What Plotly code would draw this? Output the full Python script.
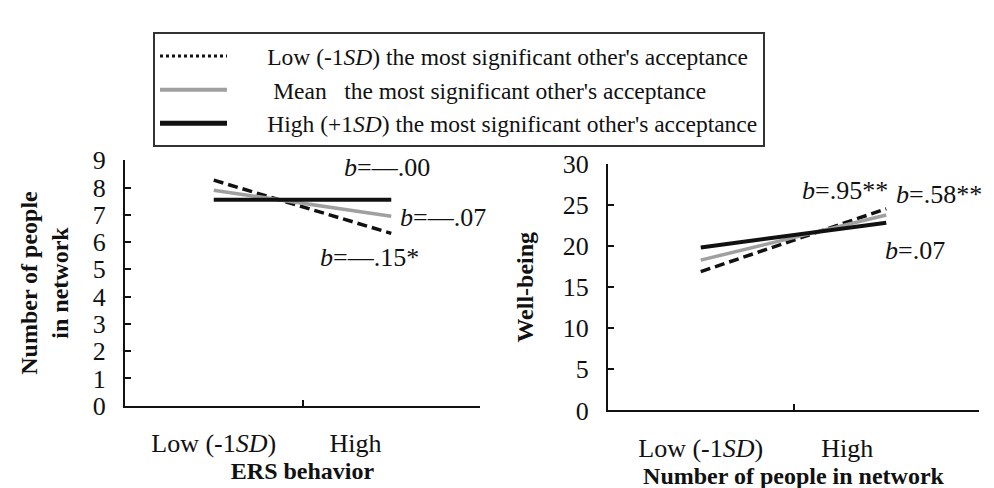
import plotly.graph_objects as go

# ---- data ----
categories = ["Low", "High"]
tick_text_left = ["Low (-1<i>SD</i>)", "High" + "\u00a0" * 11]
tick_text_right = ["Low (-1<i>SD</i>)", "High" + "\u00a0" * 12]

series_names = [
    "Low (-1<i>SD</i>) the most significant other's acceptance",
    "\u00a0Mean\u00a0\u00a0 the most significant other's acceptance",
    "High (+1<i>SD</i>) the most significant other's acceptance",
]

# Left panel: Number of people in network by ERS behavior
left_low = [8.27, 6.32]
left_mean = [7.90, 6.95]
left_high = [7.55, 7.55]
left_slopes = ["<i>b</i>=\u2014.15*", "<i>b</i>=\u2014.07", "<i>b</i>=\u2014.00"]

# Right panel: Well-being by number of people in network
right_low = [16.9, 24.55]
right_mean = [18.3, 23.8]
right_high = [19.85, 22.85]
right_slopes = ["<i>b</i>=.95**", "<i>b</i>=.58**", "<i>b</i>=.07"]

left_yticks = list(range(0, 10))
right_yticks = [0, 5, 10, 15, 20, 25, 30]

# ---- styles ----
FONT = "Liberation Serif, Times New Roman, serif"
BLACK = "#111111"
GRAY = "#a0a0a0"
styles = [
    dict(color=BLACK, width=3.5, dash="10px,5px"),
    dict(color=GRAY, width=3.5, dash="solid"),
    dict(color=BLACK, width=4, dash="solid"),
]
legend_styles = [
    dict(color=BLACK, width=3, dash="dot"),
    dict(color=GRAY, width=4, dash="solid"),
    dict(color=BLACK, width=5, dash="solid"),
]
LEGEND_PAD = "\u00a0" * 6

fig = go.Figure()

for vals, st in zip([left_low, left_mean, left_high], styles):
    fig.add_trace(go.Scatter(x=categories, y=vals, mode="lines", line=st,
                             showlegend=False, xaxis="x", yaxis="y"))
for vals, st in zip([right_low, right_mean, right_high], styles):
    fig.add_trace(go.Scatter(x=categories, y=vals, mode="lines", line=st,
                             showlegend=False, xaxis="x2", yaxis="y2"))
for name, st in zip(series_names, legend_styles):
    fig.add_trace(go.Scatter(x=[None], y=[None], mode="lines", line=st,
                             name=LEGEND_PAD + name, showlegend=True,
                             xaxis="x", yaxis="y"))

# slope annotations anchored at line end points
left_ends = [left_low[1], left_mean[1], left_high[1]]
left_offsets = [(-22, -24, "center"), (7, -1, "left"), (-4, 32, "center")]
for txt, yv, (dx, dy, xa) in zip(left_slopes, left_ends, left_offsets):
    fig.add_annotation(x=categories[1], y=yv, xref="x", yref="y", text=txt,
                       showarrow=False, xanchor=xa, yanchor="middle",
                       xshift=dx, yshift=dy, font=dict(family=FONT, size=26, color=BLACK))
right_ends = [right_low[1], right_mean[1], right_high[1]]
right_offsets = [(-86, 18, "left"), (8, 20, "left"), (-3, -28, "left")]
for txt, yv, (dx, dy, xa) in zip(right_slopes, right_ends, right_offsets):
    fig.add_annotation(x=categories[1], y=yv, xref="x2", yref="y2", text=txt,
                       showarrow=False, xanchor=xa, yanchor="middle",
                       xshift=dx, yshift=dy, font=dict(family=FONT, size=26, color=BLACK))

W, H = 994, 488
tickfont = dict(family=FONT, size=26, color=BLACK)
titlefont = dict(family=FONT, size=24, color=BLACK, weight="bold")

common_x = dict(type="category", range=[-0.5, 1.5], tickson="boundaries",
                ticks="inside", ticklen=6, tickwidth=2, tickcolor=BLACK,
                showline=True, linecolor=BLACK, linewidth=2, showgrid=False,
                zeroline=False, tickfont=tickfont, ticklabelstandoff=13,
                tickmode="array", tickvals=categories)
common_y = dict(ticks="inside", ticklen=6, tickwidth=2, tickcolor=BLACK,
                showline=True, linecolor=BLACK, linewidth=2, showgrid=False,
                zeroline=False, tickfont=tickfont, ticklabelstandoff=12,
                tickmode="array")

fig.update_layout(
    width=W, height=H,
    margin=dict(l=0, r=0, t=0, b=0),
    paper_bgcolor="white", plot_bgcolor="white",
    font=dict(family=FONT, color=BLACK),
    xaxis=dict(common_x, domain=[117 / W, 472 / W], anchor="y", ticktext=tick_text_left,
               title=dict(text="ERS behavior", font=titlefont, standoff=0)),
    yaxis=dict(common_y, domain=[1 - 408 / H, 1 - 147 / H], anchor="x", range=[0, 9],
               tickvals=left_yticks,
               title=dict(text="Number of people<br>in network", font=titlefont, standoff=17)),
    xaxis2=dict(common_x, domain=[600 / W, 971 / W], anchor="y2", ticktext=tick_text_right,
                title=dict(text="Number of people in network", font=titlefont, standoff=5)),
    yaxis2=dict(common_y, domain=[1 - 413 / H, 1 - 151 / H], anchor="x2", range=[0, 30],
                tickvals=right_yticks,
                title=dict(text="Well-being", font=titlefont, standoff=22)),
    legend=dict(x=145 / W, y=1 - 11 / H, xanchor="left", yanchor="top",
                bordercolor="#333333", borderwidth=2, bgcolor="white",
                font=dict(family=FONT, size=23.5, color=BLACK),
                traceorder="normal", itemwidth=67),
)

fig.write_html("out.html")
